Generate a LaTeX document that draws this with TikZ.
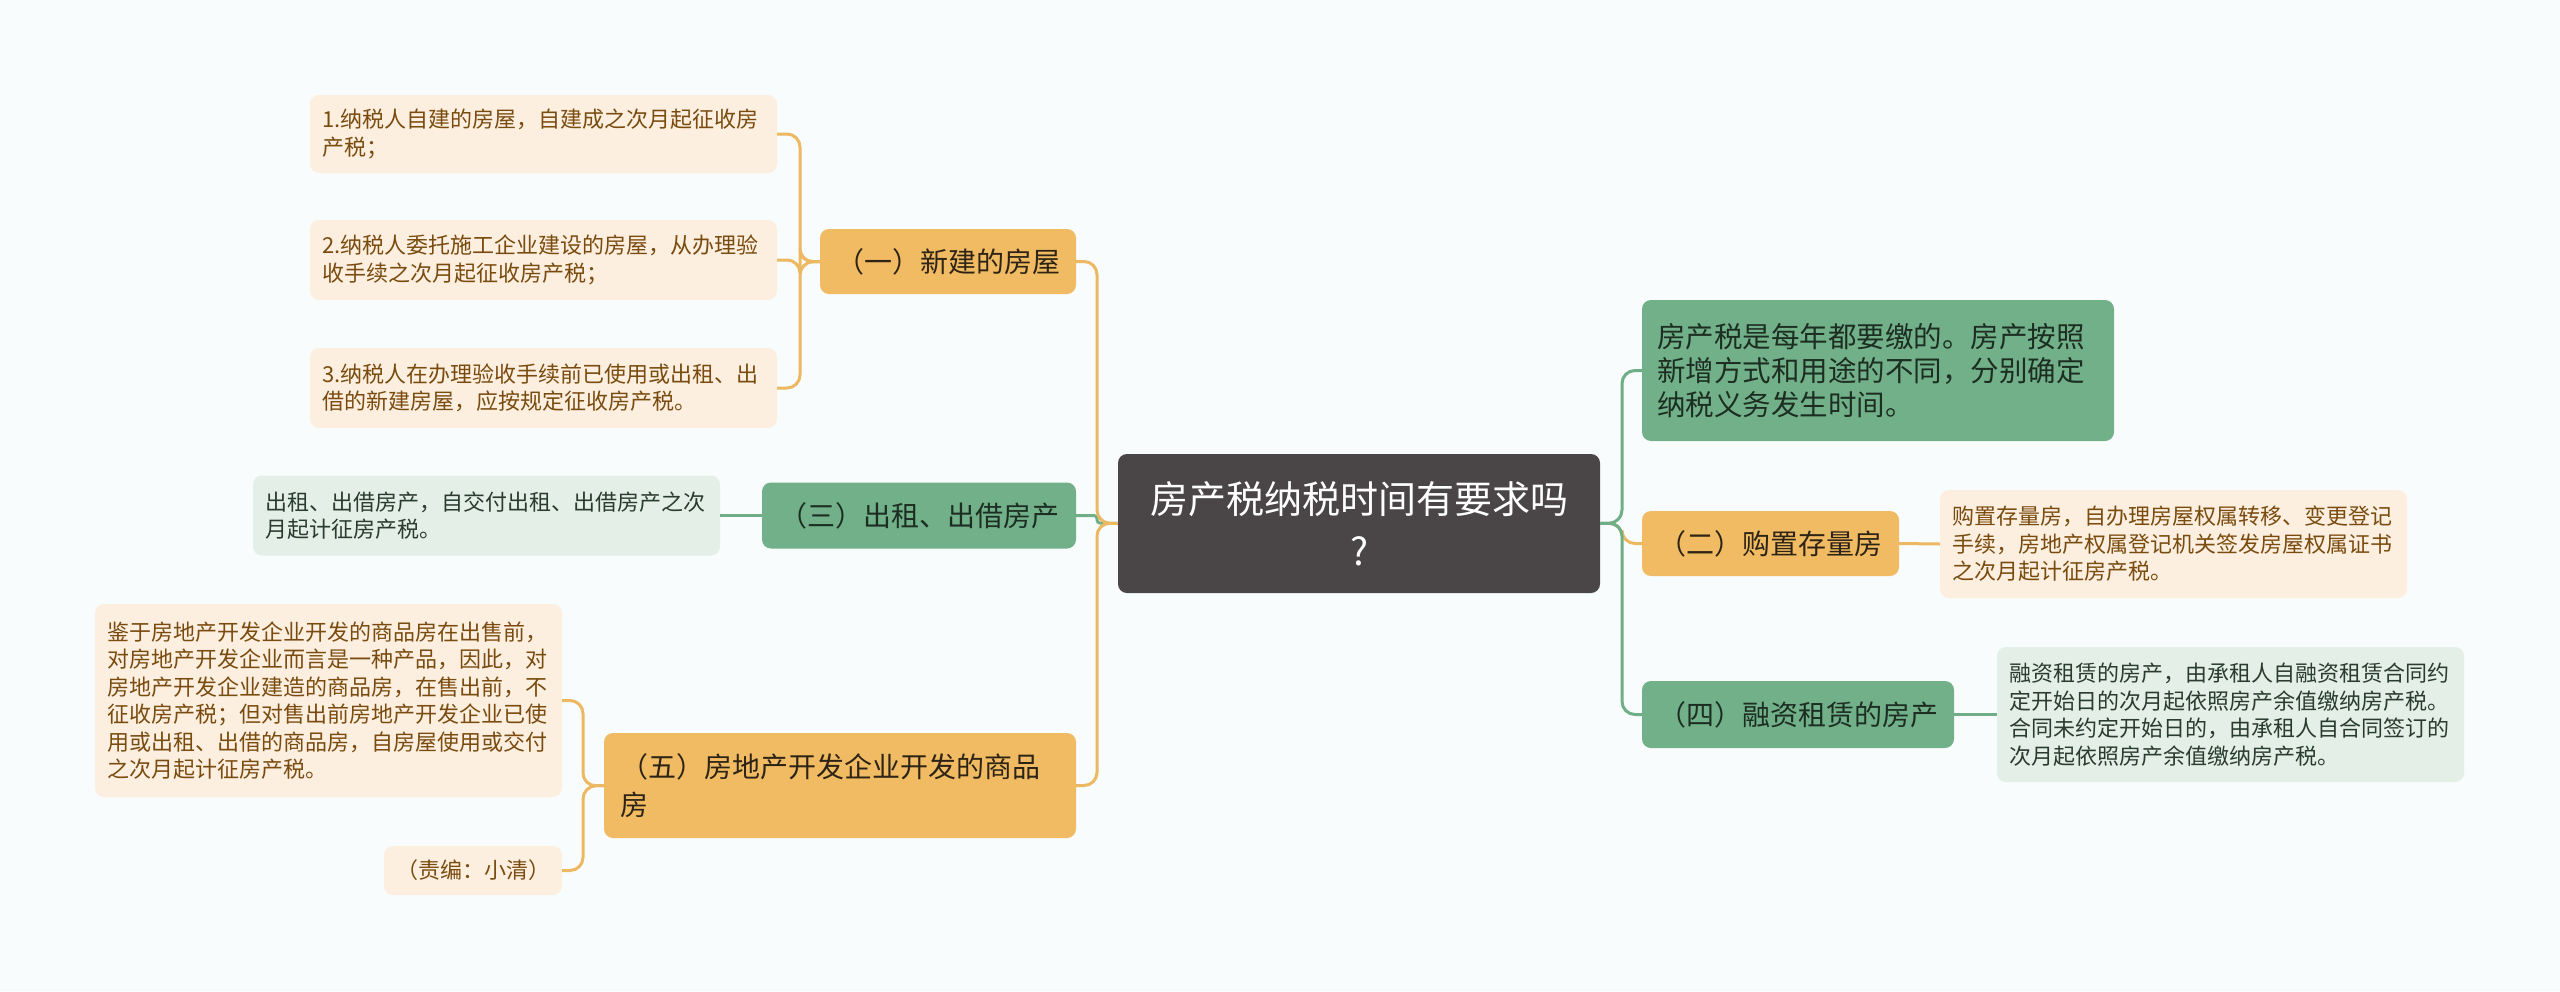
\documentclass[tikz,border=0pt]{standalone}
\usepackage{fontspec}
\setmainfont{Noto Sans CJK SC}
\definecolor{bgc}{HTML}{F8FCFC}
\definecolor{centralc}{HTML}{4A4546}
\definecolor{orangec}{HTML}{F0BB63}
\definecolor{orangeline}{HTML}{EDB862}
\definecolor{greenc}{HTML}{72B089}
\definecolor{greenline}{HTML}{6FAE87}
\definecolor{leafo}{HTML}{FCEFE0}
\definecolor{leafg}{HTML}{E3EFE7}
\definecolor{leafotext}{HTML}{7A4B0E}
\definecolor{leafgtext}{HTML}{2A3B2F}
\definecolor{branchotext}{HTML}{2E2416}
\definecolor{branchgtext}{HTML}{1C2E22}
\tikzset{
  box/.style={rounded corners=9pt, draw=none, inner ysep=0pt},
  centralbox/.style={box, fill=centralc, text=white, align=center,
    font=\fontsize{38}{52}\selectfont, text width=460pt, inner xsep=11pt},
  branchO/.style={box, fill=orangec, text=branchotext, align=center,
    font=\fontsize{28}{38}\selectfont},
  branchG/.style={box, fill=greenc, text=branchgtext, align=center,
    font=\fontsize{28}{38}\selectfont},
  leafO/.style={box, fill=leafo, text=leafotext, align=left,
    font=\fontsize{22}{27.5}\selectfont, text width=443pt, inner xsep=12pt},
  leafG/.style={box, fill=leafg, text=leafgtext, align=left,
    font=\fontsize{22}{27.5}\selectfont, text width=443pt, inner xsep=12pt},
  lineO/.style={draw=orangeline, line width=3pt, rounded corners=13pt},
  lineG/.style={draw=greenline, line width=3pt, rounded corners=13pt},
}
\begin{document}
\begin{tikzpicture}[x=1pt,y=-1pt]
\fill[bgc] (0,0) rectangle (2560,991);
\useasboundingbox (0,0) rectangle (2560,991);

% junction coordinates
\coordinate (jL) at (1097,523);
\coordinate (jR) at (1622,523);
\coordinate (j1) at (800,262);
\coordinate (j5) at (583,786);

% central
\node[centralbox, minimum height=139pt] (C) at (1359,523.5) {房产税纳税时间有要求吗\\?};

% left branches
\node[branchO, minimum width=256pt, minimum height=65pt] (B1) at (948,261.5) {（一）新建的房屋};
\node[branchG, minimum width=314pt, minimum height=66pt] (B3) at (919,515.5) {（三）出租、出借房产};
\node[branchO, minimum height=105pt, text width=440pt, inner xsep=16pt, align=left] (B5) at (840,785.5) {（五）房地产开发企业开发的商品\\房};

% right branches
\node[box, fill=greenc, text=branchgtext, align=left, font=\fontsize{28.5}{34}\selectfont,
  text width=442pt, inner xsep=15pt, minimum height=141pt] (R0) at (1878,370.5)
  {房产税是每年都要缴的。房产按照\\新增方式和用途的不同，分别确定\\纳税义务发生时间。};
\node[branchO, minimum width=257pt, minimum height=65pt] (B2) at (1770.5,543.5) {（二）购置存量房};
\node[branchG, minimum width=312pt, minimum height=67pt] (B4) at (1798,714.5) {（四）融资租赁的房产};

% leaves
\node[leafO, minimum height=78pt] (L1) at (543.5,134) {1.纳税人自建的房屋，自建成之次月起征收房\\产税；};
\node[leafO, minimum height=80pt] (L2) at (543.5,260) {2.纳税人委托施工企业建设的房屋，从办理验\\收手续之次月起征收房产税；};
\node[leafO, minimum height=80pt] (L3) at (543.5,388) {3.纳税人在办理验收手续前已使用或出租、出\\借的新建房屋，应按规定征收房产税。};
\node[leafG, minimum height=80pt] (L4) at (486.5,515.5) {出租、出借房产，自交付出租、出借房产之次\\月起计征房产税。};
\node[leafO, minimum height=193pt] (L5) at (328.5,700.5) {鉴于房地产开发企业开发的商品房在出售前，\\对房地产开发企业而言是一种产品，因此，对\\房地产开发企业建造的商品房，在售出前，不\\征收房产税；但对售出前房地产开发企业已使\\用或出租、出借的商品房，自房屋使用或交付\\之次月起计征房产税。};
\node[box, fill=leafo, text=leafotext, font=\fontsize{22}{27.5}\selectfont,
  minimum width=178pt, minimum height=49pt] (L6) at (473,870.5) {（责编：小清）};
\node[leafO, minimum height=108pt] (L7) at (2173.5,544) {购置存量房，自办理房屋权属转移、变更登记\\手续，房地产权属登记机关签发房屋权属证书\\之次月起计征房产税。};
\node[leafG, minimum height=135pt] (L8) at (2230.5,714.5) {融资租赁的房产，由承租人自融资租赁合同约\\定开始日的次月起依照房产余值缴纳房产税。\\合同未约定开始日的，由承租人自合同签订的\\次月起依照房产余值缴纳房产税。};

% connectors: central to left branches (green first, orange on top)
\draw[lineG, rounded corners=3pt] (C.west) -- (jL) |- (B3.east);
\draw[lineO] (C.west) -- (jL) |- (B1.east);
\draw[lineO] (C.west) -- (jL) |- (B5.east);
% central to right branches
\draw[lineO] (C.east) -- (jR) |- (B2.west);
\draw[lineG] (C.east) -- (jR) |- (R0.west);
\draw[lineG] (C.east) -- (jR) |- (B4.west);
% branches to leaves
\draw[lineO] (B1.west) -- (j1) |- (L1.east);
\draw[lineO] (B1.west) -- (j1) |- (L2.east);
\draw[lineO] (B1.west) -- (j1) |- (L3.east);
\draw[lineG] (B3.west) -- (L4.east);
\draw[lineO] (B5.west) -- (j5) |- (L5.east);
\draw[lineO] (B5.west) -- (j5) |- (L6.east);
\draw[lineO] (B2.east) -- (L7.west);
\draw[lineG] (B4.east) -- (L8.west);
\end{tikzpicture}
\end{document}
